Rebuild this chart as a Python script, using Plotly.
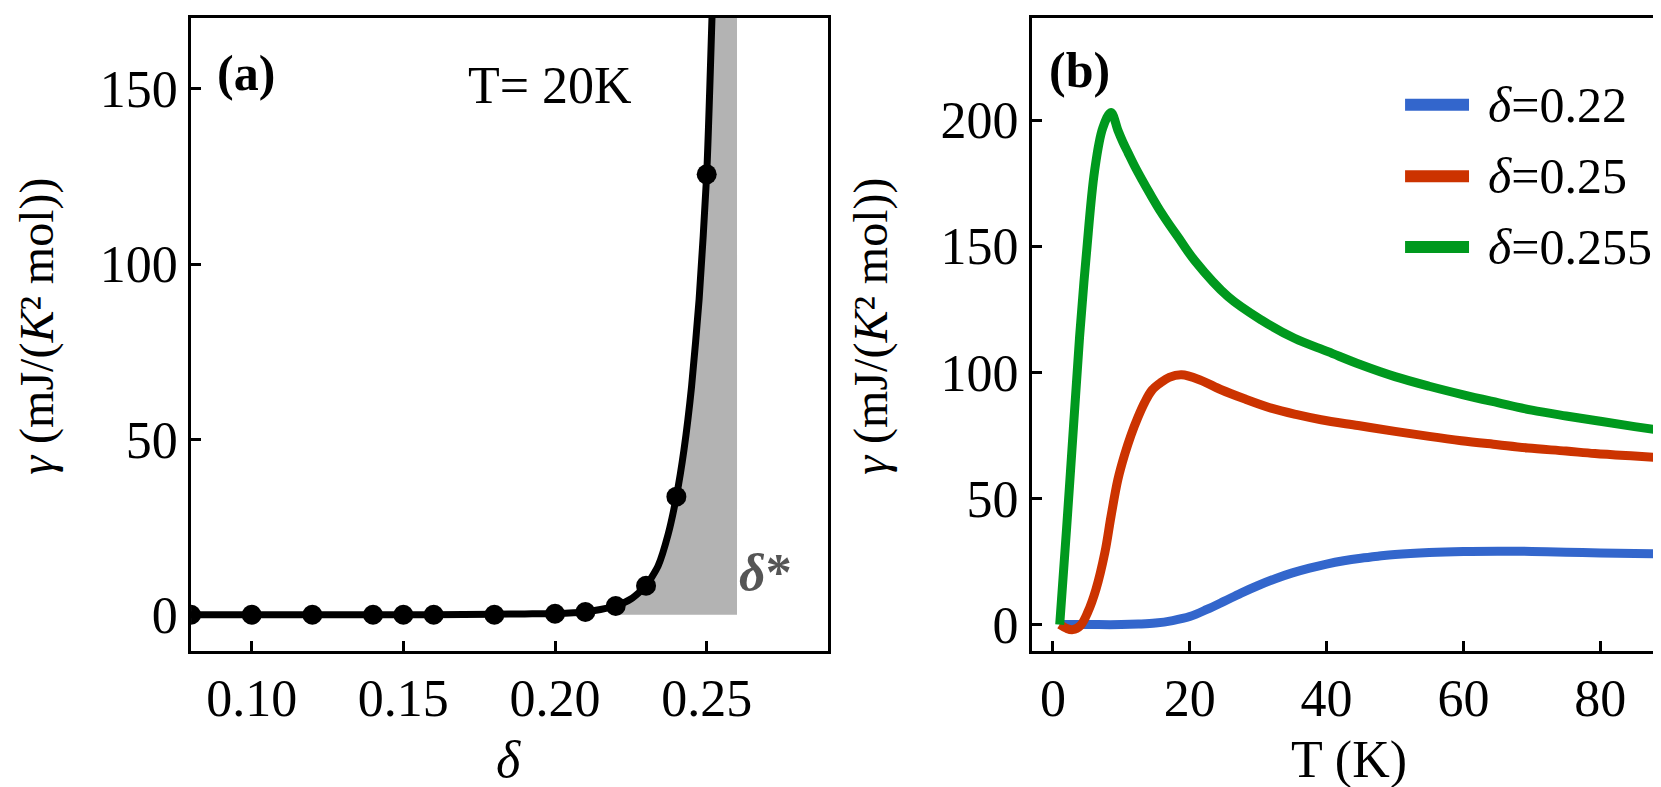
import plotly.graph_objects as go

# --- panel (a): gamma vs delta at T = 20 K ---
delta_pts = [0.08, 0.10, 0.12, 0.14, 0.15, 0.16, 0.18, 0.20, 0.21, 0.22, 0.23, 0.24, 0.25]
gamma_pts = [0.0, 0.0, 0.0, 0.0, 0.0, 0.0, 0.0, 0.3, 0.8, 2.5, 8.3, 33.7, 125.6]

delta_fit = [0.08, 0.10, 0.12, 0.14, 0.16, 0.18, 0.19, 0.20, 0.21, 0.215, 0.22, 0.225,
             0.23, 0.234, 0.2373, 0.24, 0.2425, 0.245, 0.2475, 0.25, 0.2518]
gamma_fit = [0.0, 0.0, 0.0, 0.0, 0.05, 0.15, 0.25, 0.35, 0.8, 1.5, 2.5, 4.5,
             8.3, 14.0, 23.0, 33.7, 47.0, 65.0, 90.0, 125.6, 172.0]

delta_star = 0.26

# --- panel (b): gamma vs T ---
T_022 = [1, 5, 10, 12.5, 15, 17.5, 20, 22.5, 25, 27.5, 30, 32.5, 35, 37.5, 40, 42.5,
         45, 47.5, 50, 55, 60, 65, 70, 75, 80, 85, 90]
g_022 = [0, 0, 0, 0.2, 0.6, 1.6, 3.2, 6.0, 9.2, 12.5, 15.5, 18.2, 20.5, 22.4, 24.0, 25.3,
         26.3, 27.1, 27.8, 28.6, 29.0, 29.1, 29.0, 28.7, 28.4, 28.2, 27.9]

T_025 = [1, 2, 2.9, 4, 5.1, 6.3, 7.6, 8.5, 9.5, 10.5, 11.4, 12.4, 13.4, 14.5, 15.8, 17,
         18.8, 21.5, 24.6, 28, 31.9, 35.5, 39.2, 44.6, 50, 55, 59.7, 65, 69.4, 75, 79.2, 85, 90]
g_025 = [0, -1.5, -2, -0.5, 4.9, 14, 28.6, 43, 57.5, 67.5, 75, 82, 88, 93, 96, 98,
         99, 97, 93.1, 89.5, 85.8, 83.3, 81.2, 78.9, 76.6, 74.6, 72.9, 71.3, 70.0, 68.8,
         67.8, 66.8, 66.0]

T_0255 = [1.0, 2.0, 3.0, 3.9, 4.9, 6.1, 7.3, 8.5, 9.5, 10.2, 11.0, 12.0, 13.0, 14.3, 15.8,
          17.0, 18.3, 20.7, 25.6, 30.5, 35.3, 40.2, 45, 50, 55, 60, 65, 70, 75, 80, 85, 90]
g_0255 = [0, 38, 78, 114, 147, 180, 197, 203, 196, 191.5, 187, 181.5, 176.5, 170.3, 163.5,
          158.6, 153.6, 144.4, 130, 120.7, 113.5, 108.2, 103, 98.3, 94.5, 91.1, 88, 85,
          82.7, 80.6, 78.5, 76.5]

labels_b = ["δ=0.22", "δ=0.25", "δ=0.255"]
colors_b = ["#3366cc", "#cc3300", "#00991e"]

FONT = "Liberation Serif, Times New Roman, serif"

fig = go.Figure()

# gray region between the fitted curve and delta*
shade_x = [d for d in delta_fit if d >= 0.22]
shade_y = [g for d, g in zip(delta_fit, gamma_fit) if d >= 0.22]
fig.add_trace(go.Scatter(x=[shade_x[0]] + shade_x + [delta_star, delta_star],
                         y=[0] + shade_y + [max(shade_y), 0],
                         fill="toself", fillcolor="#b3b3b3", line=dict(width=0),
                         mode="lines", hoverinfo="skip", showlegend=False))
fig.add_trace(go.Scatter(x=delta_fit, y=gamma_fit, mode="lines",
                         line=dict(color="black", width=7, shape="spline", smoothing=0.6),
                         showlegend=False))
fig.add_trace(go.Scatter(x=delta_pts, y=gamma_pts, mode="markers", cliponaxis=True,
                         marker=dict(color="black", size=20), showlegend=False))

for T, g, c in zip([T_022, T_025, T_0255], [g_022, g_025, g_0255], colors_b):
    fig.add_trace(go.Scatter(x=T, y=g, mode="lines", xaxis="x2", yaxis="y2",
                             line=dict(color=c, width=9, shape="spline", smoothing=1.0),
                             showlegend=False))

axis_style = dict(showline=True, linecolor="black", linewidth=3, mirror=True,
                  ticks="inside", ticklen=10, tickwidth=2.5, tickcolor="black",
                  showgrid=False, zeroline=False,
                  tickfont=dict(family=FONT, size=52, color="black"))

fig.update_layout(
    width=1661, height=787,
    margin=dict(l=0, r=0, t=0, b=0),
    plot_bgcolor="white", paper_bgcolor="white",
    xaxis=dict(domain=[0.1102, 0.4937], range=[0.08, 0.29],
               tickvals=[0.10, 0.15, 0.20, 0.25], ticktext=["0.10", "0.15", "0.20", "0.25"],
               anchor="y", **axis_style),
    yaxis=dict(domain=[0.1804, 0.9873], range=[-10.2, 170.2],
               tickvals=[0, 50, 100, 150], anchor="x", **axis_style),
    xaxis2=dict(domain=[0.6165, 0.9982], range=[-3.05, 89.6],
                tickvals=[0, 20, 40, 60, 80], anchor="y2", **axis_style),
    yaxis2=dict(domain=[0.1804, 0.9873], range=[-10.3, 240.5],
                tickvals=[0, 50, 100, 150, 200], anchor="x2", **axis_style),
)

ytitle = "<i>γ</i> (mJ/(<i>K</i>² mol))"
ann = [
    dict(x=0.0175, y=0.5934, text=ytitle, textangle=-90, size=48),
    dict(x=0.5196, y=0.5934, text=ytitle, textangle=-90, size=48),
    dict(x=0.3016, y=0.0419, text="<i>δ</i>", size=52),
    dict(x=0.8073, y=0.0407, text="T (K)", size=52),
    dict(x=0.1435, y=0.9174, text="<b>(a)</b>", size=50),
    dict(x=0.3265, y=0.9009, text="T= 20K", size=52),
    dict(x=0.6450, y=0.9212, text="<b>(b)</b>", size=50),
]
for a in ann:
    size = a.pop("size")
    fig.add_annotation(xref="paper", yref="paper", showarrow=False,
                       xanchor="center", yanchor="middle",
                       font=dict(family=FONT, size=size, color="black"), **a)

fig.add_annotation(x=0.2695, y=12, xref="x", yref="y", showarrow=False,
                   xanchor="center", yanchor="middle",
                   text="<b><i>δ</i></b><b>*</b>",
                   font=dict(family=FONT, size=52, color="#555555"))

# legend for panel (b)
legend_y = [0.8767, 0.7853, 0.6950]
for lab, c, ly in zip(labels_b, colors_b, legend_y):
    fig.add_shape(type="line", xref="paper", yref="paper", x0=0.8411, x1=0.8796,
                  y0=ly, y1=ly, line=dict(color=c, width=12))
    fig.add_annotation(xref="paper", yref="paper", x=0.8898, y=ly,
                       xanchor="left", yanchor="middle",
                       showarrow=False, text="<i>δ</i>" + lab[1:],
                       font=dict(family=FONT, size=50, color="black"))

fig.write_html("out.html")
